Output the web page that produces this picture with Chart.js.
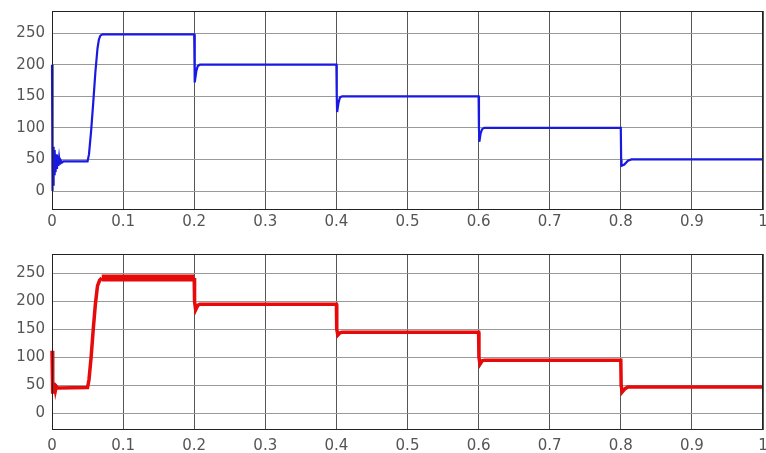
<!DOCTYPE html>
<html>
<head>
<meta charset="utf-8">
<script src="https://cdn.jsdelivr.net/npm/chart.js@4.4.1/dist/chart.umd.min.js"></script>
<style>
  body { margin: 0; background: #fff; width: 766px; height: 453px; overflow: hidden; }
  canvas { position: absolute; left: 0; }
  #top { top: 0; }
  #bot { top: 240px; }
</style>
</head>
<body>
<canvas id="top" width="766" height="240"></canvas>
<canvas id="bot" width="766" height="213"></canvas>
<script>
// time axis ticks and value ticks
var xTicks = [0, 0.1, 0.2, 0.3, 0.4, 0.5, 0.6, 0.7, 0.8, 0.9, 1];
var yTicks = [0, 50, 100, 150, 200, 250];

// top trace (blue)
var tTop = [0, 0.0005, 0.001, 0.0015, 0.002, 0.0025, 0.003, 0.0035, 0.004, 0.005, 0.006, 0.007, 0.008, 0.009, 0.010, 0.011, 0.012, 0.014, 0.016,
            0.05, 0.052, 0.055, 0.058, 0.061, 0.064, 0.066, 0.068, 0.071,
            0.2, 0.2005, 0.201, 0.203, 0.205, 0.208,
            0.4, 0.4005, 0.401, 0.403, 0.405, 0.408,
            0.6, 0.6005, 0.601, 0.603, 0.605, 0.608,
            0.8, 0.8005, 0.801, 0.805, 0.81, 0.815, 1];
var vTop = [200, 0, 75, 10, 70, 20, 65, 25, 62, 30, 58, 35, 55, 40, 52, 42, 49, 45, 47,
            47, 58, 95, 140, 188, 226, 240, 246, 248,
            248, 200, 172, 190, 198, 200,
            200, 150, 125, 140, 148, 150,
            150, 100, 78, 92, 98, 100,
            100, 50, 40, 42, 48, 50, 50];

// bottom trace (red)
var tBot = [0, 0.001, 0.002, 0.003, 0.004, 0.005, 0.006, 0.008,
            0.05, 0.052, 0.055, 0.058, 0.061, 0.064, 0.067, 0.07,
            0.2, 0.2005, 0.202, 0.205, 0.208,
            0.4, 0.4005, 0.402, 0.405, 0.408,
            0.6, 0.6005, 0.602, 0.605, 0.608,
            0.8, 0.8005, 0.802, 0.806, 0.81, 1];
var vBot = [112, 35, 55, 38, 52, 42, 48, 45,
            46, 60, 100, 150, 195, 228, 238, 242,
            242, 200, 185, 193, 195,
            195, 150, 140, 144, 145,
            145, 100, 88, 94, 95,
            95, 50, 38, 44, 47, 47];

function pts(t, v) {
  return t.map(function(x, i) { return { x: x, y: v[i] }; });
}

var frame = {
  id: 'frame',
  afterDraw: function(chart) {
    var a = chart.chartArea, c = chart.ctx;
    c.save();
    c.strokeStyle = '#222';
    c.lineWidth = 1;
    c.strokeRect(a.left + 0.5, a.top + 0.5, a.right - a.left - 1, a.bottom - a.top - 1);
    c.restore();
  }
};

function makeChart(id, data, color, width, segment, pad, xPad, xHeight) {
  var ds = {
    data: data,
    borderColor: color,
    borderWidth: width,
    pointRadius: 0,
    tension: 0,
    clip: 4
  };
  if (segment) ds.segment = segment;
  return new Chart(document.getElementById(id), {
    type: 'line',
    data: { datasets: [ds] },
    options: {
      responsive: false,
      animation: false,
      layout: { padding: pad },
      plugins: { legend: { display: false }, tooltip: { enabled: false } },
      scales: {
        x: {
          type: 'linear', min: 0, max: 1,
          afterBuildTicks: function(s) { s.ticks = xTicks.map(function(v) { return { value: v }; }); },
          afterFit: function(s) { s.height = xHeight; s.paddingLeft = 0; s.paddingRight = 0; },
          grid: { color: '#555', drawTicks: false },
          border: { display: false },
          ticks: {
            padding: xPad,
            color: '#555',
            font: { family: 'DejaVu Sans', size: 15 },
            maxRotation: 0,
            callback: function(v) { return String(Math.round(v * 10) / 10); }
          }
        },
        y: {
          min: -30, max: 285,
          afterBuildTicks: function(s) { s.ticks = yTicks.map(function(v) { return { value: v }; }); },
          afterFit: function(s) { s.width = 52; s.paddingTop = 0; s.paddingBottom = 0; },
          grid: { color: '#999', drawTicks: false },
          border: { display: false },
          ticks: {
            padding: 7,
            color: '#555',
            font: { family: 'DejaVu Sans', size: 15 }
          }
        }
      }
    },
    plugins: [frame]
  });
}

makeChart('top', pts(tTop, vTop), 'rgb(25,25,225)', 2.2, null,
  { left: 0, right: 3, top: 11, bottom: 0 }, 3, 30);

makeChart('bot', pts(tBot, vBot), 'rgb(230,10,10)', 3.5, {
    borderWidth: function(ctx) {
      return (ctx.p0.parsed.x >= 0.07 && ctx.p1.parsed.x <= 0.2 && ctx.p0.parsed.y > 240) ? 7 : 3.5;
    }
  },
  { left: 0, right: 3, top: 14, bottom: 0 }, 7, 23);
</script>
</body>
</html>
